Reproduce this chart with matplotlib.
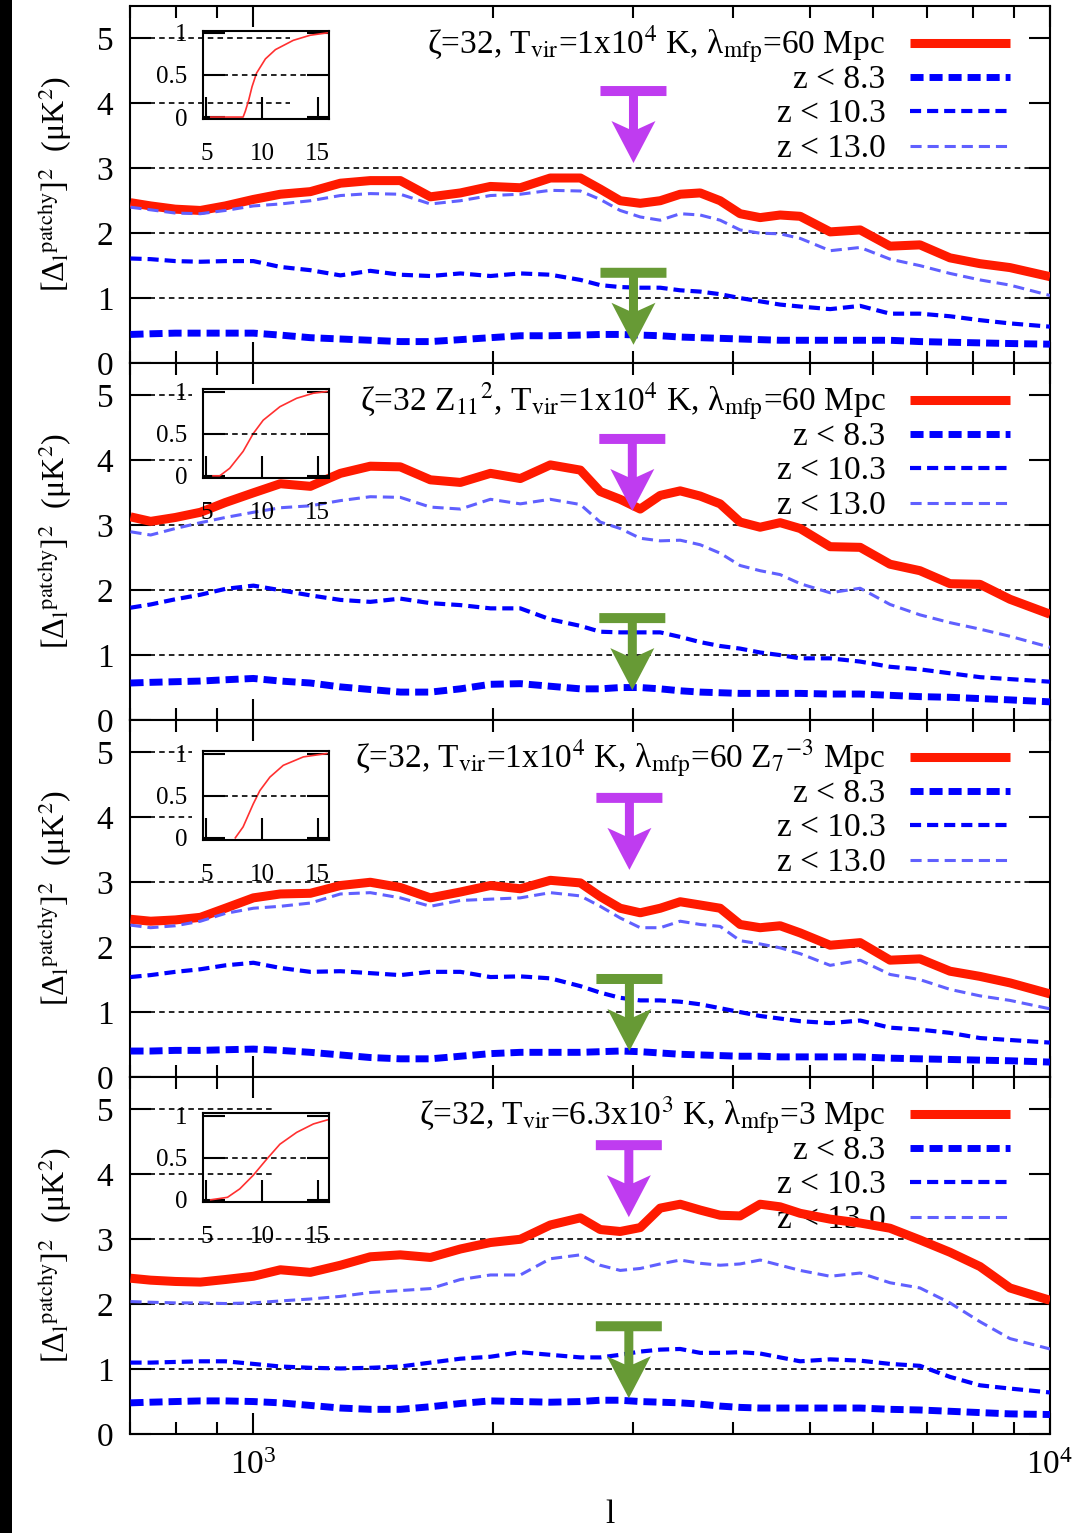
import numpy as np
import matplotlib
matplotlib.use("Agg")
import matplotlib.pyplot as plt
import matplotlib.transforms as mtransforms
from matplotlib.patches import Polygon, Rectangle
from matplotlib.ticker import NullFormatter

plt.rcParams['font.family'] = ['Liberation Serif', 'DejaVu Serif']
plt.rcParams['mathtext.fontset'] = 'stix'
plt.rcParams['lines.scale_dashes'] = False

# multipole l (shared sampling for every curve)
ell = [701, 743, 798, 858, 922, 1000, 1081, 1179, 1286, 1402, 1529, 1668, 1819, 1984,
       2163, 2359, 2573, 2725, 2887, 3059, 3241, 3434, 3638, 3854, 4083, 4326, 4584,
       4857, 5297, 5777, 6298, 6867, 7489, 8168, 8907, 10000]

# panel 1
tot_1 = [2.47, 2.42, 2.37, 2.35, 2.42, 2.52, 2.60, 2.64, 2.77, 2.81, 2.81, 2.56, 2.62, 2.72,
         2.70, 2.85, 2.85, 2.68, 2.50, 2.46, 2.50, 2.60, 2.62, 2.50, 2.30, 2.24, 2.28, 2.26,
         2.02, 2.05, 1.80, 1.82, 1.62, 1.53, 1.47, 1.33]
z130_1 = [2.40, 2.36, 2.31, 2.30, 2.35, 2.42, 2.45, 2.50, 2.58, 2.61, 2.60, 2.45, 2.50, 2.58,
          2.60, 2.66, 2.65, 2.52, 2.35, 2.25, 2.20, 2.30, 2.28, 2.20, 2.05, 2.00, 1.99, 1.92,
          1.73, 1.78, 1.60, 1.50, 1.38, 1.28, 1.20, 1.04]
z103_1 = [1.61, 1.60, 1.57, 1.56, 1.57, 1.57, 1.48, 1.43, 1.35, 1.42, 1.36, 1.34, 1.38, 1.34,
          1.38, 1.36, 1.28, 1.20, 1.17, 1.16, 1.16, 1.12, 1.10, 1.06, 1.00, 0.95, 0.90, 0.87,
          0.83, 0.88, 0.76, 0.76, 0.72, 0.66, 0.61, 0.56]
z83_1 = [0.44, 0.45, 0.46, 0.46, 0.46, 0.46, 0.43, 0.39, 0.37, 0.35, 0.33, 0.33, 0.36, 0.39,
         0.42, 0.42, 0.43, 0.44, 0.44, 0.43, 0.42, 0.40, 0.39, 0.38, 0.37, 0.36, 0.35, 0.35,
         0.35, 0.35, 0.35, 0.33, 0.32, 0.31, 0.30, 0.29]

# panel 2
tot_2 = [3.13, 3.06, 3.12, 3.20, 3.35, 3.50, 3.64, 3.60, 3.80, 3.91, 3.90, 3.70, 3.66, 3.80,
         3.72, 3.93, 3.85, 3.52, 3.40, 3.25, 3.46, 3.53, 3.45, 3.33, 3.05, 2.97, 3.04, 2.95,
         2.67, 2.66, 2.40, 2.30, 2.10, 2.09, 1.86, 1.63]
z130_2 = [2.90, 2.85, 2.95, 3.04, 3.12, 3.20, 3.27, 3.30, 3.38, 3.44, 3.43, 3.28, 3.25, 3.40,
          3.33, 3.40, 3.32, 3.05, 2.95, 2.80, 2.76, 2.77, 2.70, 2.57, 2.38, 2.30, 2.24, 2.10,
          1.96, 2.03, 1.78, 1.62, 1.50, 1.40, 1.29, 1.12]
z103_2 = [1.73, 1.78, 1.86, 1.93, 2.02, 2.07, 2.00, 1.92, 1.85, 1.82, 1.87, 1.80, 1.77, 1.72,
          1.72, 1.55, 1.45, 1.36, 1.35, 1.35, 1.35, 1.28, 1.20, 1.14, 1.10, 1.04, 1.00, 0.95,
          0.95, 0.90, 0.82, 0.78, 0.72, 0.66, 0.63, 0.59]
z83_2 = [0.57, 0.58, 0.59, 0.60, 0.62, 0.64, 0.60, 0.57, 0.51, 0.47, 0.43, 0.43, 0.48, 0.55,
         0.56, 0.52, 0.48, 0.48, 0.50, 0.50, 0.48, 0.45, 0.43, 0.42, 0.41, 0.41, 0.41, 0.41,
         0.40, 0.40, 0.38, 0.36, 0.35, 0.33, 0.31, 0.28]

# panel 3
tot_3 = [2.43, 2.40, 2.42, 2.46, 2.60, 2.76, 2.82, 2.83, 2.95, 3.00, 2.92, 2.76, 2.85, 2.95,
         2.90, 3.03, 2.99, 2.78, 2.60, 2.53, 2.60, 2.70, 2.65, 2.60, 2.35, 2.30, 2.33, 2.22,
         2.03, 2.07, 1.80, 1.82, 1.63, 1.55, 1.45, 1.28]
z130_3 = [2.34, 2.30, 2.33, 2.40, 2.52, 2.60, 2.63, 2.68, 2.82, 2.84, 2.76, 2.63, 2.72, 2.74,
          2.76, 2.84, 2.79, 2.63, 2.45, 2.30, 2.30, 2.40, 2.35, 2.32, 2.10, 2.05, 1.99, 1.90,
          1.72, 1.80, 1.58, 1.50, 1.35, 1.25, 1.18, 1.05]
z103_3 = [1.54, 1.57, 1.62, 1.66, 1.72, 1.76, 1.68, 1.62, 1.63, 1.60, 1.57, 1.62, 1.62, 1.54,
          1.55, 1.52, 1.40, 1.30, 1.22, 1.18, 1.18, 1.16, 1.12, 1.06, 1.00, 0.94, 0.90, 0.86,
          0.83, 0.87, 0.76, 0.73, 0.68, 0.60, 0.57, 0.53]
z83_3 = [0.40, 0.40, 0.41, 0.41, 0.42, 0.43, 0.41, 0.38, 0.34, 0.30, 0.28, 0.28, 0.32, 0.36,
         0.38, 0.38, 0.38, 0.39, 0.40, 0.39, 0.37, 0.35, 0.34, 0.33, 0.32, 0.32, 0.31, 0.31,
         0.31, 0.31, 0.29, 0.28, 0.27, 0.26, 0.25, 0.23]

# panel 4
tot_4 = [2.40, 2.37, 2.35, 2.34, 2.38, 2.43, 2.53, 2.49, 2.60, 2.73, 2.76, 2.72, 2.85, 2.95,
         3.00, 3.22, 3.33, 3.15, 3.12, 3.18, 3.48, 3.54, 3.45, 3.37, 3.36, 3.54, 3.50, 3.40,
         3.31, 3.25, 3.17, 2.99, 2.80, 2.58, 2.25, 2.06]
z130_4 = [2.04, 2.03, 2.02, 2.02, 2.01, 2.02, 2.05, 2.08, 2.12, 2.18, 2.21, 2.24, 2.38, 2.45,
          2.45, 2.70, 2.76, 2.60, 2.52, 2.55, 2.62, 2.68, 2.63, 2.60, 2.62, 2.68, 2.60, 2.52,
          2.43, 2.48, 2.33, 2.25, 2.02, 1.73, 1.47, 1.31]
z103_4 = [1.10, 1.10, 1.11, 1.12, 1.12, 1.08, 1.04, 1.02, 1.01, 1.02, 1.04, 1.10, 1.16, 1.19,
          1.26, 1.22, 1.18, 1.18, 1.22, 1.27, 1.30, 1.31, 1.25, 1.25, 1.26, 1.24, 1.18, 1.12,
          1.15, 1.13, 1.08, 1.05, 0.88, 0.75, 0.70, 0.64]
z83_4 = [0.48, 0.49, 0.50, 0.51, 0.51, 0.50, 0.48, 0.44, 0.40, 0.38, 0.38, 0.42, 0.47, 0.51,
         0.50, 0.49, 0.50, 0.52, 0.52, 0.50, 0.49, 0.48, 0.46, 0.43, 0.41, 0.40, 0.40, 0.40,
         0.40, 0.40, 0.38, 0.37, 0.35, 0.33, 0.31, 0.30]

# inset: reionization history (z, fraction)
hz_1 = [5.4, 8.3, 8.5, 8.8, 9.1, 9.5, 10.3, 11.2, 12.8, 14.3, 15.9]
hx_1 = [0.0, 0.0, 0.07, 0.20, 0.36, 0.52, 0.69, 0.80, 0.91, 0.97, 1.0]
hz_2 = [5.6, 6.2, 7.1, 8.3, 9.2, 10.1, 11.6, 13.1, 14.6, 15.8]
hx_2 = [0.0, 0.0, 0.09, 0.29, 0.50, 0.66, 0.82, 0.92, 0.98, 1.0]
hz_3 = [7.6, 8.3, 9.2, 9.8, 10.7, 11.9, 13.7, 15.8]
hx_3 = [0.0, 0.13, 0.40, 0.56, 0.72, 0.86, 0.96, 1.0]
hz_4 = [5.4, 6.9, 8.0, 9.2, 10.4, 11.6, 13.1, 14.6, 15.9]
hx_4 = [0.0, 0.03, 0.13, 0.29, 0.48, 0.66, 0.80, 0.90, 0.95]

titles = [
    r'ζ=32, T$_{\rm vir}$=1x10$^{4}$ K, λ$_{\rm mfp}$=60 Mpc',
    r'ζ=32 Z$_{11}$$^{2}$, T$_{\rm vir}$=1x10$^{4}$ K, λ$_{\rm mfp}$=60 Mpc',
    r'ζ=32, T$_{\rm vir}$=1x10$^{4}$ K, λ$_{\rm mfp}$=60 Z$_{7}$$^{-3}$ Mpc',
    r'ζ=32, T$_{\rm vir}$=6.3x10$^{3}$ K, λ$_{\rm mfp}$=3 Mpc',
]
z_labels = ['z < 8.3', 'z < 10.3', 'z < 13.0']

panels = [
    (tot_1, z83_1, z103_1, z130_1, hz_1, hx_1),
    (tot_2, z83_2, z103_2, z130_2, hz_2, hx_2),
    (tot_3, z83_3, z103_3, z130_3, hz_3, hx_3),
    (tot_4, z83_4, z103_4, z130_4, hz_4, hx_4),
]

# layout / style
W, H = 1081, 1533
fig = plt.figure(figsize=(W / 100, H / 100), dpi=100)
fig.add_artist(Rectangle((0, 0), 12 / W, 1, transform=fig.transFigure,
                         facecolor='black', edgecolor='none'))

left_px, right_px, top_px, ph = 130, 1050, 6, 357
inset_y0 = [0.683, 0.678, 0.664, 0.650]
grid_end = [1113, 838, 838, 1059]
arrow_y = [(4.19, 1.39), (4.33, 1.57), (4.30, 1.51), (4.45, 1.66)]
arrow_x = [3000, 2990, 2965, 2960]

red = '#ff1a00'
styles = [
    dict(color=red, lw=6.5, solid_capstyle='butt'),
    dict(color='#0000ff', lw=5.0, dashes=(9.4, 4.3)),
    dict(color='#0000ff', lw=3.0, dashes=(8.0, 4.3)),
    dict(color='#6060ff', lw=2.2, dashes=(8.0, 4.3)),
]
grid_kw = dict(color='black', lw=1.2, dashes=(4, 3), zorder=1)
purple, green = '#bf3cf0', '#679a35'
arrow_verts = np.array([(-33, 5), (33, 5), (33, -5), (4.5, -5), (4.5, -38), (22, -30),
                        (0, -72), (-22, -30), (-4.5, -38), (-4.5, -5), (-33, -5)]) / 100.0


def t_arrow(ax, x, y, color):
    tr = fig.dpi_scale_trans + mtransforms.ScaledTranslation(x, y, ax.transData)
    fig.add_artist(Polygon(arrow_verts, closed=True, transform=tr,
                           facecolor=color, edgecolor='none', zorder=6))


for k, (tot, z83, z103, z130, hz, hx) in enumerate(panels):
    bottom = 1 - (top_px + ph * (k + 1)) / H
    ax = fig.add_axes([left_px / W, bottom, (right_px - left_px) / W, ph / H])
    ax.set_xscale('log')
    ax.set_xlim(700, 10000)
    ax.set_ylim(0, 5.5)

    for y in (1, 2, 3):
        ax.axhline(y, **grid_kw)
    for y in (4, 5):
        ax.plot([700, grid_end[k]], [y, y], **grid_kw)

    for series, st in zip((tot, z83, z103, z130), styles):
        ax.plot(ell, series, zorder=3, **st)

    # key
    rows = [0.896, 0.801, 0.706, 0.608]
    for r, lab, st in zip(rows, [titles[k]] + z_labels, styles):
        ax.text(0.821, r - 0.03, lab, transform=ax.transAxes, ha='right', va='baseline',
                fontsize=24, zorder=2)
        ax.plot([0.848, 0.957], [r, r], transform=ax.transAxes, zorder=3, **st)

    ax.tick_params(which='both', direction='in', top=True, right=True, width=1.5)
    ax.tick_params(which='major', length=15, labelsize=24, pad=12)
    ax.tick_params(which='minor', length=8.5)
    ax.tick_params(axis='y', pad=12)
    ax.set_yticks([0, 1, 2, 3, 4, 5])
    ax.xaxis.set_minor_formatter(NullFormatter())
    if k < 3:
        ax.tick_params(axis='x', which='both', labelbottom=False)
    for s in ax.spines.values():
        s.set_linewidth(1.5)

    ax.set_ylabel(r'[Δ$_{\rm l}$$^{\rm patchy}$]$^{2}$  (μK$^{2}$)',
                  fontsize=23, va='center')
    ax.yaxis.set_label_coords(-0.082, 0.5)

    # inset
    ins = ax.inset_axes([0.0793, inset_y0[k], 0.137, 0.248])
    ins.set_facecolor('none')
    ins.plot(hz, hx, color='#ff3030', lw=1.2)
    ins.set_xlim(4.7, 16.0)
    ins.set_ylim(-0.025, 1.025)
    ins.axhline(0.5, color='black', lw=1.2, dashes=(4, 3))
    ins.set_xticks([5, 10, 15])
    ins.set_xticklabels(['5', '10', '15'])
    ins.set_yticks([0, 0.5, 1])
    ins.set_yticklabels(['0', '0.5', '1'])
    ins.tick_params(direction='in', length=16, width=1.5, labelsize=18,
                    top=False, right=True)
    ins.tick_params(axis='x', pad=17)
    ins.tick_params(axis='y', pad=11)
    for s in ins.spines.values():
        s.set_linewidth(1.5)

    t_arrow(ax, arrow_x[k], arrow_y[k][0], purple)
    t_arrow(ax, arrow_x[k], arrow_y[k][1], green)

fig.text(610 / W, 1 - 1515 / H, 'l', fontsize=24, ha='center', va='center')

fig.savefig('out.png', dpi=100)
